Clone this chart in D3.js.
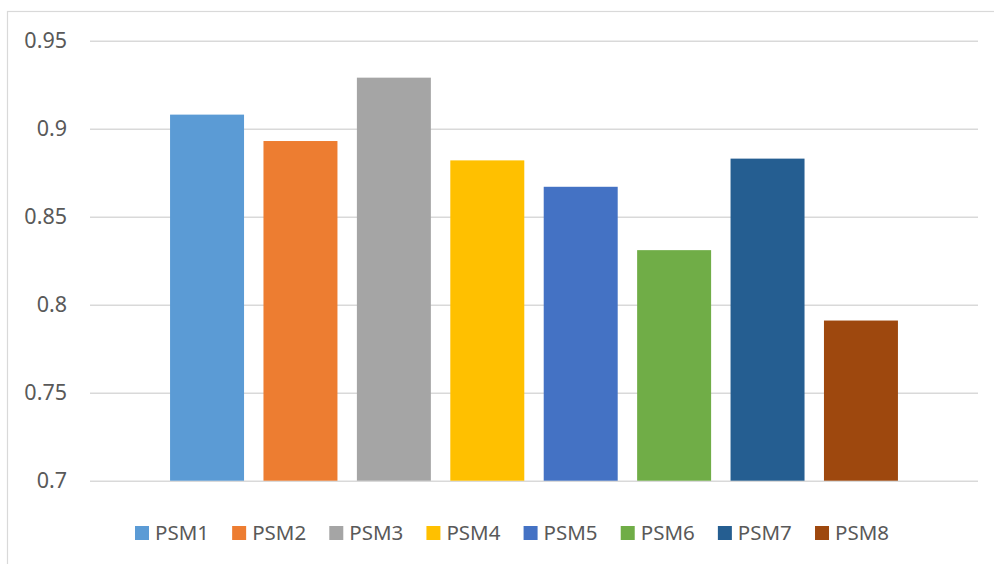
<!DOCTYPE html>
<html>
<head>
<meta charset="utf-8">
<script src="https://cdn.jsdelivr.net/npm/d3@7"></script>
<style>
  html, body { margin: 0; padding: 0; background: #fff; }
  svg { display: block; font-family: "Segoe UI", "Noto Sans", "Open Sans", sans-serif; }
</style>
</head>
<body>
<svg id="chart" width="994" height="564"></svg>
<script>
// Series names, their values and fill colours
const series = ["PSM1", "PSM2", "PSM3", "PSM4", "PSM5", "PSM6", "PSM7", "PSM8"];
const values = [0.908, 0.893, 0.929, 0.882, 0.867, 0.831, 0.883, 0.791];
const colors = ["#5b9bd5", "#ed7d31", "#a5a5a5", "#ffc000", "#4472c4", "#70ad47", "#255e91", "#9e480e"];
const yTicks = [0.7, 0.75, 0.8, 0.85, 0.9, 0.95];

const svg = d3.select("#chart");
const W = 994, H = 564;
const plot = { left: 90, right: 978, top: 40.7, bottom: 480.7 };

// Chart frame
svg.append("rect")
  .attr("x", 7.5).attr("y", 11.5)
  .attr("width", W + 10).attr("height", H + 10)
  .attr("fill", "#fff").attr("stroke", "#d9d9d9").attr("stroke-width", 1.2);

const y = d3.scaleLinear().domain([0.7, 0.95]).range([plot.bottom, plot.top]);
const x = d3.scaleBand().domain(series).range([plot.left, plot.right])
  .paddingInner(0.208).paddingOuter(0.857);

// Horizontal gridlines and tick labels via the axis generator
const yAxis = d3.axisLeft(y).tickValues(yTicks)
  .tickSize(-(plot.right - plot.left)).tickPadding(23)
  .tickFormat(d => String(+d.toFixed(2)));
const gAxis = svg.append("g").attr("transform", `translate(${plot.left},0)`).call(yAxis);
gAxis.select(".domain").remove();
gAxis.selectAll(".tick line").attr("stroke", "#d9d9d9").attr("stroke-width", 1.5);
gAxis.selectAll(".tick text")
  .attr("fill", "#595959").attr("font-size", 21.5)
  .attr("font-family", "\"Segoe UI\", \"Noto Sans\", \"Open Sans\", sans-serif");

// Bars
svg.append("g").selectAll("rect")
  .data(series)
  .join("rect")
  .attr("x", d => x(d))
  .attr("width", x.bandwidth())
  .attr("y", (d, i) => y(values[i]))
  .attr("height", (d, i) => y(0.7) - y(values[i]))
  .attr("fill", (d, i) => colors[i]);

// Legend along the bottom, spread over a fixed span
const legend = svg.append("g");
const sw = 14, textGap = 6, fs = 20.5;
const span = [135, 889];
const items = legend.selectAll("g").data(series).join("g");
items.append("rect").attr("width", sw).attr("height", sw).attr("y", -sw / 2)
  .attr("fill", (d, i) => colors[i]);
items.append("text").attr("x", sw + textGap).attr("dy", "0.35em")
  .attr("font-size", fs).attr("fill", "#595959").text(d => d);
const widths = [];
items.each(function () {
  widths.push(sw + textGap + this.querySelector("text").getComputedTextLength());
});
const itemGap = (span[1] - span[0] - d3.sum(widths)) / (series.length - 1);
let offset = 0;
items.attr("transform", (d, i) => {
  const t = `translate(${offset},0)`;
  offset += widths[i] + itemGap;
  return t;
});
legend.attr("transform", `translate(${span[0]},533)`);
</script>
</body>
</html>
